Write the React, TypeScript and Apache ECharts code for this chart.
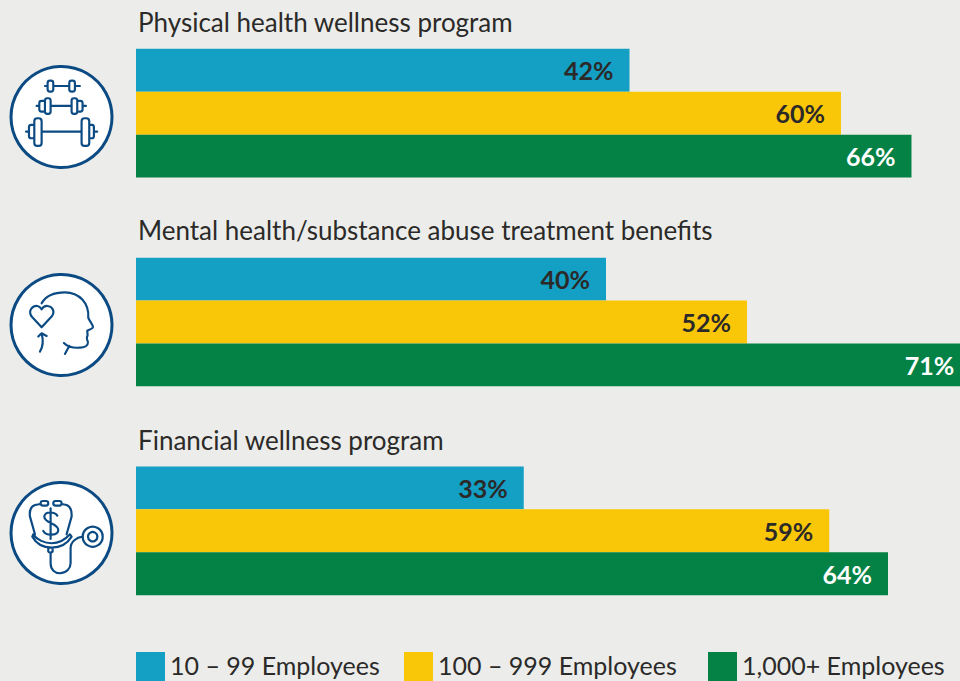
import React, { useEffect, useRef } from "react";
import * as echarts from "echarts";

const categories = [
  "Physical health wellness program",
  "Mental health/substance abuse treatment benefits",
  "Financial wellness program",
];
const small = [42, 40, 33];
const medium = [60, 52, 59];
const large = [66, 71, 64];
const seriesNames = ["10 – 99 Employees", "100 – 999 Employees", "1,000+ Employees"];
const colors = ["#149fc4", "#fac608", "#048145"];
const legendLefts = [136, 404, 708];
const titleYs = [22, 230, 440];

const BG = "#ecedea";
const NAVY = "#0b4a82";
const INK = "#2b2a29";
const FONT = "Lato";

const rr = (x0: number, y0: number, x1: number, y1: number, r: number) =>
  `M${x0 + r},${y0}L${x1 - r},${y0}Q${x1},${y0} ${x1},${y0 + r}L${x1},${y1 - r}Q${x1},${y1} ${x1 - r},${y1}L${x0 + r},${y1}Q${x0},${y1} ${x0},${y1 - r}L${x0},${y0 + r}Q${x0},${y0} ${x0 + r},${y0}Z`;

const barbellPath = [
  "M135,108L143,108M160,108L208,108M225,108L240,108",
  rr(143, 92, 160, 125, 7),
  rr(208, 92, 225, 125, 7),
  "M110,168L118,168M152,168L215,168M248,168L258,168",
  rr(135, 145, 152, 192, 7),
  rr(215, 145, 232, 192, 7),
  "M135,153L125,153Q118,153 118,160L118,178Q118,185 125,185L135,185",
  "M232,153L241,153Q248,153 248,160L248,178Q248,185 241,185L232,185",
  "M78,245L87,245M125,245L245,245M282,245L292,245",
  rr(103, 205, 125, 288, 9),
  rr(245, 205, 268, 288, 9),
  "M103,225L94,225Q87,225 87,232L87,258Q87,265 94,265L103,265",
  "M268,225L276,225Q282,225 282,232L282,258Q282,265 276,265L268,265",
].join("");

const headPath = [
  "M125,115C140,88 170,82 195,82C238,82 268,115 265,158C268,168 280,180 279,187C277,193 265,195 262,197L263,210C263,215 258,218 262,225C268,235 262,245 250,247C230,250 205,248 192,234",
  "M208,243L195,267",
  "M125,187L95,155C82,135 100,122 112,123C120,124 123,130 125,133C128,128 135,122 143,123C157,124 167,140 155,155Z",
  "M120,260C130,245 130,225 125,205M115,215L125,205L140,213",
].join("");

const stethPath = [
  rr(122, 78, 145, 92, 7),
  rr(160, 78, 185, 92, 7),
  "M122,87L105,90C92,95 88,110 90,125L105,178",
  "M185,87L200,90C212,95 216,110 215,125L200,178",
  "M100,178C110,195 135,205 155,205C175,205 195,195 210,178L215,185C200,210 175,218 155,218C130,218 110,208 97,185Z",
  "M145,218L145,230Q150,236 158,230L158,218",
  "M152,233L152,265C152,285 165,295 180,295C200,295 212,280 212,265L212,220C212,200 230,187 248,185",
  "M172,122C165,110 135,108 133,125C132,145 175,145 175,165C175,182 140,185 130,168",
  "M152,100L152,192",
].join("");

echarts.graphic.registerShape("barbellIcon", echarts.graphic.extendPath(barbellPath as any, {}) as any);
echarts.graphic.registerShape("headIcon", echarts.graphic.extendPath(headPath as any, {}) as any);
echarts.graphic.registerShape("stethIcon", echarts.graphic.extendPath(stethPath as any, {}) as any);

const iconStyle = { fill: "none", stroke: NAVY, lineWidth: 6.5, lineJoin: "round", lineCap: "round" };
const badge = (cy: number) => ({
  type: "circle",
  shape: { cx: 61.5, cy, r: 50.5 },
  style: { fill: "#ffffff", stroke: NAVY, lineWidth: 3 },
});

export default function App() {
  const ref = useRef<HTMLDivElement>(null);
  useEffect(() => {
    document.body.style.margin = "0";
    const chart = echarts.init(ref.current!, undefined, { renderer: "svg" });
    const values = [small, medium, large];
    chart.setOption({
      animation: false,
      backgroundColor: BG,
      textStyle: { fontFamily: FONT },
      grid: { left: 136, top: 8.8, width: 940, height: 626.4 },
      xAxis: { type: "value", min: 0, max: 80, show: false },
      yAxis: { type: "category", data: categories, inverse: true, show: false },
      legend: seriesNames.map((name, i) => ({
        data: [name],
        left: legendLefts[i],
        top: 652,
        padding: 0,
        itemWidth: 29,
        itemHeight: 29,
        icon: "rect",
        selectedMode: false,
        formatter: "{a|{name}}",
        textStyle: {
          fontFamily: FONT,
          fontSize: 25,
          color: INK,
          rich: { a: { fontFamily: FONT, fontSize: 25, color: INK, padding: [0, 0, 4, 0] } },
        },
      })),
      series: seriesNames.map((name, i) => ({
        type: "bar",
        name,
        data: values[i],
        barWidth: 42.9,
        barGap: 0,
        itemStyle: { color: colors[i] },
        label: {
          show: true,
          position: "insideRight",
          distance: 16,
          formatter: "{c}%",
          fontFamily: FONT,
          fontWeight: "bold",
          fontSize: 25,
          color: i === 2 ? "#ffffff" : INK,
        },
      })),
      graphic: [
        ...categories.map((text, i) => ({
          type: "text",
          x: 138,
          y: titleYs[i],
          style: { text, font: `26px ${FONT}`, fill: INK, textVerticalAlign: "middle" },
        })),
        badge(117),
        badge(325),
        badge(533),
        { type: "barbellIcon", x: 0, y: 50, scaleX: 1 / 3, scaleY: 1 / 3, style: iconStyle },
        { type: "headIcon", x: 0, y: 265, scaleX: 1 / 3, scaleY: 1 / 3, style: iconStyle },
        { type: "stethIcon", x: 0, y: 475, scaleX: 1 / 3, scaleY: 1 / 3, style: iconStyle },
        {
          type: "circle",
          shape: { cx: 92.7, cy: 536.7, r: 10 },
          style: { fill: "none", stroke: NAVY, lineWidth: 2.2 },
        },
        {
          type: "circle",
          shape: { cx: 92.7, cy: 536.7, r: 4.7 },
          style: { fill: "none", stroke: NAVY, lineWidth: 2.2 },
        },
      ],
    });
    return () => chart.dispose();
  }, []);
  return (
    <div style={{ width: 960, height: 681, overflow: "hidden" }}>
      <div ref={ref} style={{ width: 1076, height: 681 }} />
    </div>
  );
}
